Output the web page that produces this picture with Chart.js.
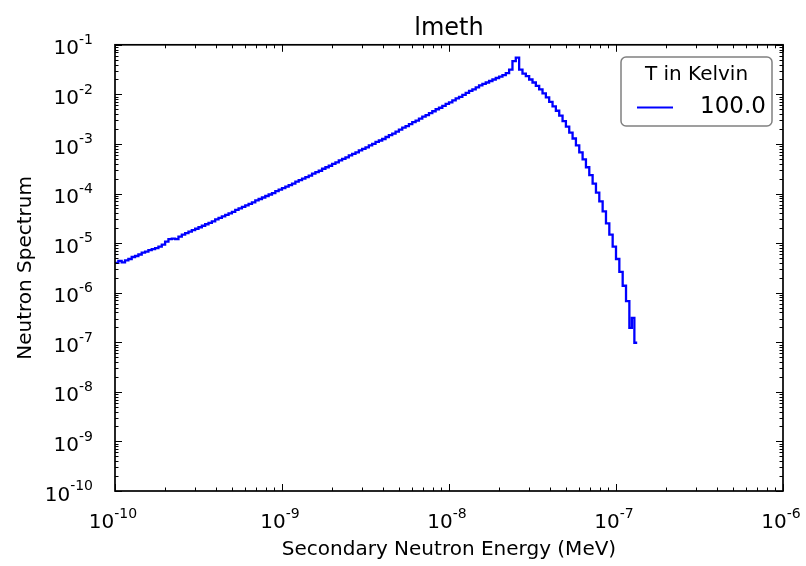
<!DOCTYPE html>
<html>
<head>
<meta charset="utf-8">
<script src="https://cdn.jsdelivr.net/npm/chart.js@4.4.1/dist/chart.umd.min.js"></script>
<style>
  html, body { margin: 0; padding: 0; background: #fff; }
  canvas { display: block; }
</style>
</head>
<body>
<canvas id="spectrum" width="806" height="566"></canvas>
<script>
// bin edges, log10(E / MeV)
const energyExp = [
  -10.00,-9.98,-9.96,-9.94,-9.92,-9.90,-9.88,-9.86,-9.84,-9.82,
  -9.80,-9.78,-9.76,-9.74,-9.72,-9.70,-9.68,-9.66,-9.64,-9.62,
  -9.60,-9.58,-9.56,-9.54,-9.52,-9.50,-9.48,-9.46,-9.44,-9.42,
  -9.40,-9.38,-9.36,-9.34,-9.32,-9.30,-9.28,-9.26,-9.24,-9.22,
  -9.20,-9.18,-9.16,-9.14,-9.12,-9.10,-9.08,-9.06,-9.04,-9.02,
  -9.00,-8.98,-8.96,-8.94,-8.92,-8.90,-8.88,-8.86,-8.84,-8.82,
  -8.80,-8.78,-8.76,-8.74,-8.72,-8.70,-8.68,-8.66,-8.64,-8.62,
  -8.60,-8.58,-8.56,-8.54,-8.52,-8.50,-8.48,-8.46,-8.44,-8.42,
  -8.40,-8.38,-8.36,-8.34,-8.32,-8.30,-8.28,-8.26,-8.24,-8.22,
  -8.20,-8.18,-8.16,-8.14,-8.12,-8.10,-8.08,-8.06,-8.04,-8.02,
  -8.00,-7.98,-7.96,-7.94,-7.92,-7.90,-7.88,-7.86,-7.84,-7.82,
  -7.80,-7.78,-7.76,-7.74,-7.72,-7.70,-7.68,-7.66,-7.64,-7.62,
  -7.60,-7.58,-7.56,-7.54,-7.52,-7.50,-7.48,-7.46,-7.44,-7.42,
  -7.40,-7.38,-7.36,-7.34,-7.32,-7.30,-7.28,-7.26,-7.24,-7.22,
  -7.20,-7.18,-7.16,-7.14,-7.12,-7.10,-7.08,-7.06,-7.04,-7.02,
  -7.00,-6.98,-6.96,-6.94,-6.92,-6.905,-6.89,-6.873
];

// log10 of the spectrum in each bin (last value closes the final bin)
const spectrumExp = [
  -5.40,-5.36,-5.39,-5.35,-5.32,-5.28,-5.26,-5.23,-5.19,-5.17,
  -5.14,-5.12,-5.10,-5.07,-5.03,-4.97,-4.92,-4.91,-4.92,-4.87,
  -4.83,-4.80,-4.77,-4.74,-4.71,-4.68,-4.65,-4.62,-4.59,-4.56,
  -4.52,-4.49,-4.46,-4.43,-4.40,-4.37,-4.33,-4.30,-4.27,-4.24,
  -4.21,-4.18,-4.14,-4.11,-4.08,-4.05,-4.02,-3.99,-3.95,-3.92,
  -3.89,-3.86,-3.83,-3.80,-3.76,-3.73,-3.70,-3.67,-3.64,-3.60,
  -3.57,-3.54,-3.50,-3.47,-3.44,-3.40,-3.37,-3.33,-3.30,-3.27,
  -3.23,-3.20,-3.17,-3.13,-3.10,-3.07,-3.03,-3.00,-2.96,-2.93,
  -2.90,-2.86,-2.82,-2.79,-2.75,-2.71,-2.67,-2.64,-2.60,-2.56,
  -2.53,-2.49,-2.45,-2.42,-2.38,-2.34,-2.30,-2.27,-2.23,-2.19,
  -2.16,-2.12,-2.08,-2.05,-2.01,-1.97,-1.93,-1.90,-1.86,-1.82,
  -1.79,-1.76,-1.73,-1.70,-1.67,-1.64,-1.61,-1.57,-1.50,-1.33,
  -1.26,-1.50,-1.58,-1.63,-1.70,-1.76,-1.83,-1.90,-1.98,-2.06,
  -2.15,-2.24,-2.33,-2.43,-2.54,-2.65,-2.77,-2.89,-3.03,-3.17,
  -3.31,-3.47,-3.63,-3.80,-3.98,-4.16,-4.36,-4.60,-4.83,-5.07,
  -5.32,-5.58,-5.86,-6.17,-6.71,-6.51,-7.01,-7.01
];

// axis decades (tick labels are 10^n) and minor tick multipliers
const xDecades = [-10, -9, -8, -7, -6];
const yDecades = [-10, -9, -8, -7, -6, -5, -4, -3, -2, -1];
const minorSteps = [2, 3, 4, 5, 6, 7, 8, 9];

const seriesLabel = '100.0';
const legendTitle = 'T in Kelvin';

const FONT = '"DejaVu Sans"';

function drawPower(ctx, exponent, x, baseline, align) {
  const base = '10';
  const sup = String(exponent);
  ctx.font = '20px ' + FONT;
  const wBase = ctx.measureText(base).width;
  ctx.font = '14px ' + FONT;
  const wSup = ctx.measureText(sup).width;
  const x0 = align === 'right' ? x - wBase - wSup : x - (wBase + wSup) / 2;
  ctx.textAlign = 'left';
  ctx.textBaseline = 'alphabetic';
  ctx.font = '20px ' + FONT;
  ctx.fillText(base, x0, baseline);
  ctx.font = '14px ' + FONT;
  ctx.fillText(sup, x0 + wBase, baseline - 10.3);
}

// inward ticks on all four sides, frame, tick labels and legend box
const axesDecor = {
  id: 'axesDecor',
  afterDraw(chart) {
    const { ctx, chartArea: a, scales: { x, y } } = chart;
    ctx.save();
    ctx.strokeStyle = '#000';
    ctx.lineWidth = 1;
    ctx.beginPath();
    xDecades.forEach((d, i) => {
      const steps = i < xDecades.length - 1 ? [1, ...minorSteps] : [1];
      steps.forEach(m => {
        const px = Math.round(x.getPixelForValue(m * Math.pow(10, d))) + 0.5;
        const len = m === 1 ? 7 : 3.5;
        ctx.moveTo(px, a.bottom); ctx.lineTo(px, a.bottom - len);
        ctx.moveTo(px, a.top); ctx.lineTo(px, a.top + len);
      });
    });
    yDecades.forEach((d, i) => {
      const steps = i < yDecades.length - 1 ? [1, ...minorSteps] : [1];
      steps.forEach(m => {
        const py = Math.round(y.getPixelForValue(m * Math.pow(10, d))) + 0.5;
        const len = m === 1 ? 7 : 3.5;
        ctx.moveTo(a.left, py); ctx.lineTo(a.left + len, py);
        ctx.moveTo(a.right, py); ctx.lineTo(a.right - len, py);
      });
    });
    ctx.stroke();

    ctx.lineWidth = 1.7;
    ctx.strokeRect(a.left, a.top, a.right - a.left, a.bottom - a.top);

    ctx.fillStyle = '#000';
    xDecades.forEach(d => {
      const px = x.getPixelForValue(Math.pow(10, d));
      drawPower(ctx, d, px - 2, a.bottom + 37.3, 'center');
    });
    yDecades.forEach(d => {
      const py = y.getPixelForValue(Math.pow(10, d));
      drawPower(ctx, d, a.left - 22, py + 9.6, 'right');
    });

    // legend
    const ds = chart.data.datasets[0];
    const bx = 621, by = 57, bw = 151, bh = 69;
    ctx.beginPath();
    ctx.roundRect(bx, by, bw, bh, 5);
    ctx.fillStyle = '#fff';
    ctx.fill();
    ctx.strokeStyle = '#808080';
    ctx.lineWidth = 1.5;
    ctx.stroke();

    ctx.fillStyle = '#000';
    ctx.textBaseline = 'middle';
    ctx.textAlign = 'center';
    ctx.font = '20px ' + FONT;
    ctx.fillText(legendTitle, bx + bw / 2, by + 18);

    ctx.strokeStyle = ds.borderColor;
    ctx.lineWidth = 2;
    ctx.beginPath();
    ctx.moveTo(637, 107.5);
    ctx.lineTo(673, 107.5);
    ctx.stroke();

    ctx.textAlign = 'left';
    ctx.font = '23px ' + FONT;
    ctx.fillText(ds.label, 700, 107);
    ctx.restore();
  }
};

function buildChart() {
  const points = energyExp.map((e, i) => ({ x: Math.pow(10, e), y: Math.pow(10, spectrumExp[i]) }));

  Chart.defaults.font.family = FONT;
  Chart.defaults.color = '#000';

  new Chart(document.getElementById('spectrum'), {
    type: 'line',
    data: {
      datasets: [{
        label: seriesLabel,
        data: points,
        borderColor: '#0000ff',
        borderWidth: 2.3,
        stepped: true,
        pointRadius: 0,
        fill: false
      }]
    },
    options: {
      responsive: false,
      animation: false,
      devicePixelRatio: 1,
      parsing: false,
      layout: { padding: { left: 0, right: 23, top: 0, bottom: 0 } },
      plugins: {
        legend: { display: false },
        tooltip: { enabled: false },
        title: {
          display: true,
          fullSize: false,
          text: 'lmeth',
          color: '#000',
          font: { size: 24, weight: 'normal' },
          padding: { top: 14, bottom: 2 }
        }
      },
      scales: {
        x: {
          type: 'logarithmic',
          min: 1e-10,
          max: 1e-6,
          grid: { display: false, drawTicks: false },
          border: { display: false },
          ticks: { display: false },
          title: {
            display: true,
            text: 'Secondary Neutron Energy (MeV)',
            color: '#000',
            font: { size: 20 },
            padding: { top: 0, bottom: 4 }
          },
          afterFit(s) { s.height = 75; s.paddingLeft = 0; s.paddingRight = 0; }
        },
        y: {
          type: 'logarithmic',
          min: 1e-10,
          max: 1e-1,
          grid: { display: false, drawTicks: false },
          border: { display: false },
          ticks: { display: false },
          title: {
            display: true,
            text: 'Neutron Spectrum',
            color: '#000',
            font: { size: 20 },
            padding: { top: 14, bottom: 0 }
          },
          afterFit(s) { s.width = 115; s.paddingTop = 0; s.paddingBottom = 0; }
        }
      }
    },
    plugins: [axesDecor]
  });
}

buildChart();
</script>
</body>
</html>
